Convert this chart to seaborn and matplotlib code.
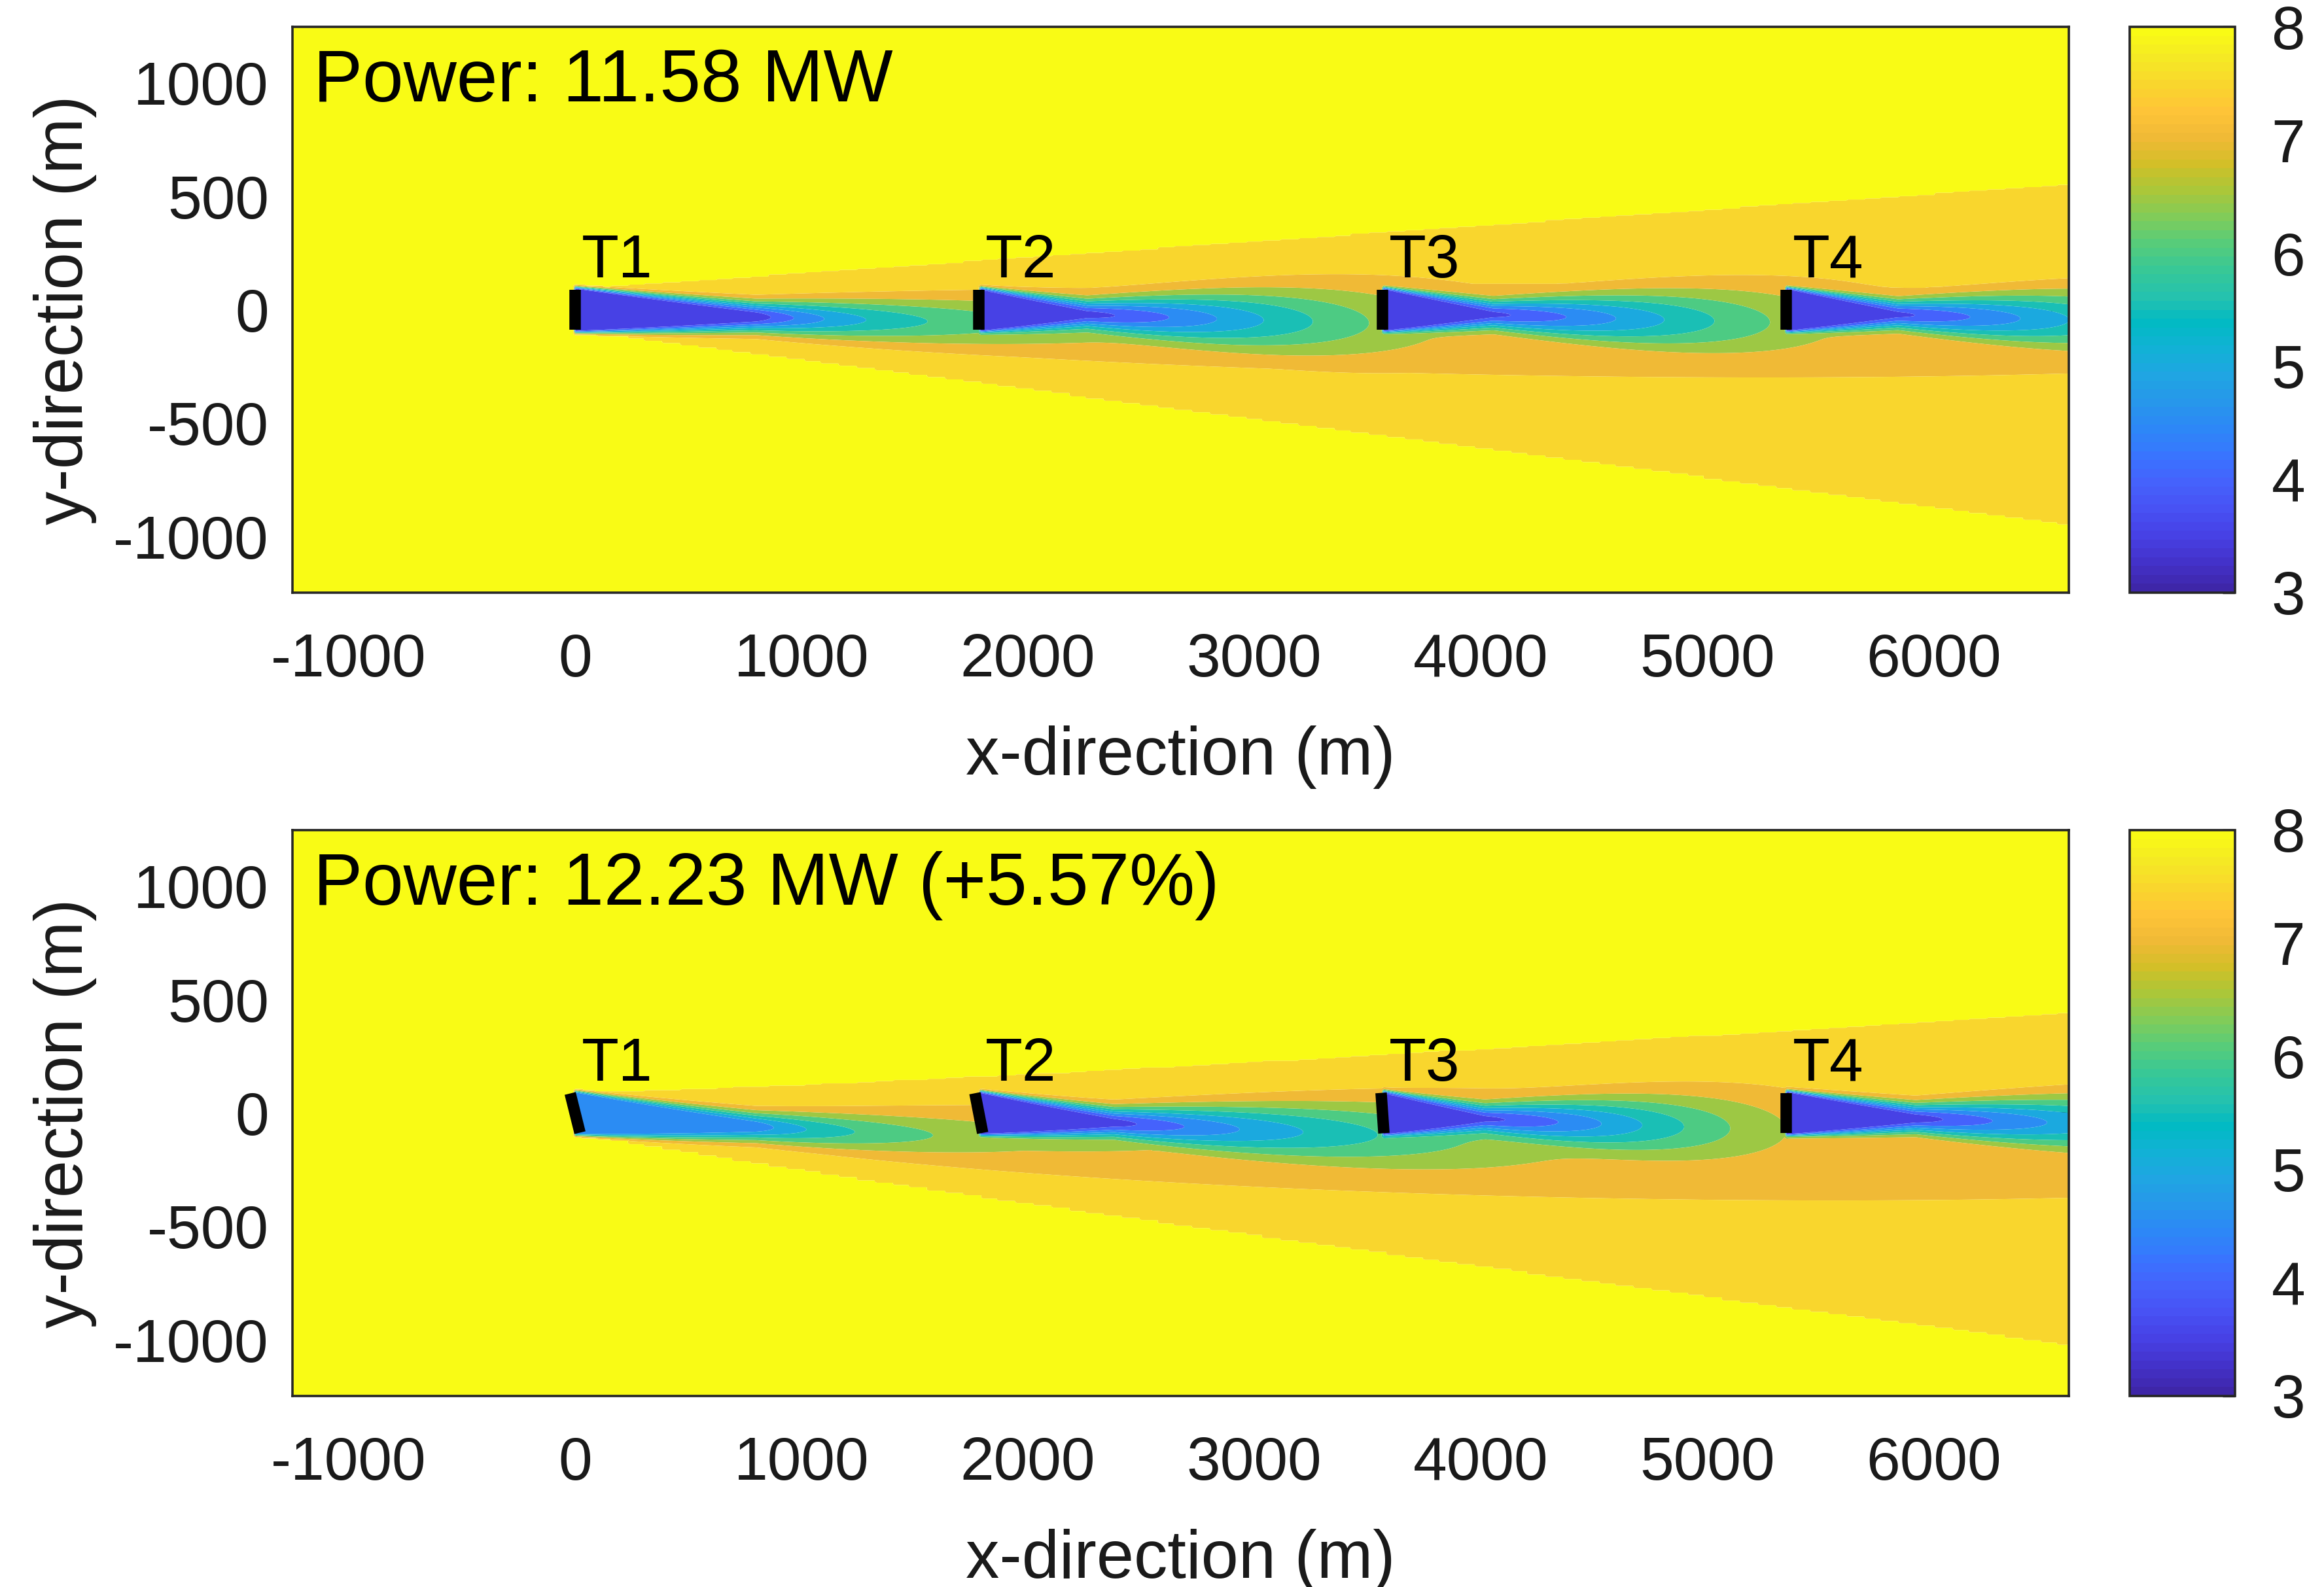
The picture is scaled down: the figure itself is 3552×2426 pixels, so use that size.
import numpy as np
import matplotlib
matplotlib.use("Agg")
import matplotlib.pyplot as plt
import seaborn as sns
from matplotlib.colors import ListedColormap, Normalize
from matplotlib.cm import ScalarMappable

# ---------------- data ----------------
rotor_diameter = 178.3            # m
free_stream_speed = 8.0           # m/s
turbine_names = ["T1", "T2", "T3", "T4"]
turbine_x = [0.0, 1783.0, 3566.0, 5349.0]
turbine_y = [0.0, 0.0, 0.0, 0.0]
yaw_baseline = [0.0, 0.0, 0.0, 0.0]          # deg
yaw_optimised = [14.0, 11.0, 4.0, 0.0]       # deg
deficit_baseline = [0.55, 0.60, 0.60, 0.60]  # centre-line deficit fraction
deficit_optimised = [0.42, 0.58, 0.60, 0.60]
power_baseline = 11.58
power_optimised = 12.23
power_gain_pct = 5.57
x_ticks = [-1000, 0, 1000, 2000, 3000, 4000, 5000, 6000]
y_ticks = [-1000, -500, 0, 500, 1000]
speed_ticks = [3, 4, 5, 6, 7, 8]
speed_levels = [3.0, 3.5, 4.0, 4.5, 5.0, 5.5, 6.0, 6.5, 7.0, 7.5, 8.0]

# ---------------- wake-model constants ----------------
CORE_LEN, CORE_K = 800.0, 3.0        # potential-core length, inflow sensitivity
DECAY_LEN, DECAY_GAUSS, WAKED_K = 650.0, 6000.0, 9.0
S0, KS, KS_ADD = 10.0, 0.046, 0.18   # shear-layer width growth (+ added turbulence)
FAR_C, FAR_LEN, FAR_S0, FAR_KS = 0.27, 2500.0, 40.0, 0.04
DRIFT, DRIFT_SAT = 0.05, 3000.0
YAW_GAIN, YAW_SAT = 0.184, 3000.0
TH_DEFICIT, TH_GROWTH, TH_DRIFT, TH_DX = 0.3, 0.10, 0.03, 78.0

D = rotor_diameter
U0 = free_stream_speed
XLIM = (-7 * D, 37 * D)
YLIM = (-7 * D, 7 * D)


def wake_parts(xi, yi, yaw, c0, uin, X, Y):
    dx = X - xi
    pos = dx > 0
    dxp = np.where(pos, dx, 0.0)
    g = np.radians(yaw)
    w = (U0 - uin) / U0                      # how strongly the rotor is waked
    lc = CORE_LEN * (uin / U0) ** CORE_K
    ld = DECAY_LEN * np.exp(WAKED_K * w)
    lg = DECAY_GAUSS * np.exp(-WAKED_K * w)
    ks = KS + KS_ADD * w
    yc = (yi - DRIFT * dxp / (1 + dxp / DRIFT_SAT)
          - YAW_GAIN * g * dxp / (1 + dxp / YAW_SAT))
    r = np.abs(Y - yc)
    # near wake: shrinking potential core + growing shear layer
    rc = 0.5 * D * np.cos(g) * np.clip(1 - dxp / lc, 0, 1)
    s = S0 + ks * dxp
    u = np.maximum(dxp - lc, 0)
    amp = uin * c0 * np.exp(-(u / lg) ** 2) / (1 + u / ld)
    near = amp * np.exp(-0.5 * (np.maximum(r - rc, 0) / s) ** 2)
    # slowly recovering far wake
    sf = FAR_S0 + FAR_KS * dxp
    famp = uin * FAR_C * (1 - np.exp(-dxp / 800.0)) / (1 + dxp / FAR_LEN)
    far = famp * np.exp(-0.5 * (r / sf) ** 2)
    return np.where(pos, near, 0.0), np.where(pos, far, 0.0)


def tophat(xi, yi, yaw, Xs, Y):
    dx = Xs - xi
    pos = dx > 0
    dxp = np.where(pos, dx, 0.0)
    g = np.radians(yaw)
    yc = yi - TH_DRIFT * dxp - YAW_GAIN * g * dxp / (1 + dxp / YAW_SAT)
    half = D / 2 + TH_GROWTH * np.cos(g) * dxp
    return pos & (np.abs(Y - yc) < half)


def combined(parts_list, X, Y):
    sq = np.zeros_like(X, dtype=float)
    fmax = np.zeros_like(X, dtype=float)
    for (xi, yi, yaw, c0, uin) in parts_list:
        n, f = wake_parts(xi, yi, yaw, c0, uin, X, Y)
        sq += n ** 2
        fmax = np.maximum(fmax, f)
    return np.maximum(np.sqrt(sq), fmax)


def flow_field(X, Y, yaws, c0s):
    Xs = np.floor((X - XLIM[0]) / TH_DX) * TH_DX + XLIM[0] + TH_DX / 2
    th = np.zeros(X.shape, dtype=bool)
    done = []
    for xi, yi, yaw, c0 in zip(turbine_x, turbine_y, yaws, c0s):
        ys = yi + np.linspace(-D / 2, D / 2, 9)
        xs = np.full_like(ys, xi)
        uin = U0 - (np.mean(combined(done, xs, ys)) if done else 0.0)
        done.append((xi, yi, yaw, c0, uin))
        th |= tophat(xi, yi, yaw, Xs, Y)
    sm = combined(done, X, Y)
    deficit = np.where(th, np.maximum(sm, TH_DEFICIT), np.where(sm >= 0.5, sm, 0.0))
    return U0 - deficit


# ---------------- style ----------------
sns.set_theme(style="white")
plt.rcParams["font.family"] = ["Liberation Sans", "DejaVu Sans"]
plt.rcParams["axes.unicode_minus"] = False

parula_anchor = [
    (0.2422, 0.1504, 0.6603), (0.2647, 0.1978, 0.7952), (0.2783, 0.2559, 0.8991),
    (0.2810, 0.3228, 0.9579), (0.2699, 0.3892, 0.9906), (0.2206, 0.4603, 0.9973),
    (0.1786, 0.5289, 0.9682), (0.1540, 0.5902, 0.9218), (0.1248, 0.6459, 0.8883),
    (0.0689, 0.6948, 0.8394), (0.0067, 0.7312, 0.7660), (0.1408, 0.7584, 0.6842),
    (0.2161, 0.7843, 0.5923), (0.3406, 0.8008, 0.4789), (0.5044, 0.7993, 0.3480),
    (0.6720, 0.7793, 0.2227), (0.8203, 0.7498, 0.1535), (0.9393, 0.7288, 0.2100),
    (0.9970, 0.7659, 0.2199), (0.9786, 0.8386, 0.1766), (0.9597, 0.9135, 0.1423),
    (0.9769, 0.9839, 0.0805)]
parula = ListedColormap(sns.blend_palette(parula_anchor, n_colors=64))
norm = Normalize(vmin=speed_levels[0], vmax=speed_levels[-1])

fill_levels = [0.0] + speed_levels[1:-1] + [speed_levels[-1] - 0.05, 9.0]
fill_colors = [parula(norm(v)) for v in speed_levels]

xg = np.arange(XLIM[0], XLIM[1] + 10, 10.0)
yg = np.arange(YLIM[0], YLIM[1] + 5, 5.0)
X, Y = np.meshgrid(xg, yg)

W, H = 3552, 2426
fig = plt.figure(figsize=(W / 200, H / 200), dpi=200)
ax_left, ax_w = 447 / W, 2715 / W
ax_h = 865 / H
bottoms = [1 - 906 / H, 1 - 2134 / H]
cb_left, cb_w = 3255 / W, 161 / W

panels = [
    (yaw_baseline, deficit_baseline, f"Power: {power_baseline:.2f} MW"),
    (yaw_optimised, deficit_optimised,
     f"Power: {power_optimised:.2f} MW (+{power_gain_pct:.2f}%)"),
]
spine_col = "#262626"
TICK_FS, LABEL_FS = 33.5, 37.0

for (yaws, c0s, ptxt), b in zip(panels, bottoms):
    ax = fig.add_axes([ax_left, b, ax_w, ax_h])
    U = flow_field(X, Y, yaws, c0s)
    ax.contourf(X, Y, U, levels=fill_levels, colors=fill_colors, antialiased=True)
    for name, xi, yi, yaw in zip(turbine_names, turbine_x, turbine_y, yaws):
        g = np.radians(yaw)
        ax.plot([xi - D / 2 * np.sin(g), xi + D / 2 * np.sin(g)],
                [yi + D / 2 * np.cos(g), yi - D / 2 * np.cos(g)],
                color="black", lw=6.3, solid_capstyle="butt")
        ax.text(xi + 28, yi + 143, name, fontsize=TICK_FS, color="black",
                ha="left", va="baseline")
    ax.text(-1155, 918, ptxt, fontsize=40.5, color="black", ha="left", va="baseline")
    ax.set_xlim(*XLIM)
    ax.set_ylim(*YLIM)
    ax.set_xticks(x_ticks)
    ax.set_yticks(y_ticks)
    ax.tick_params(direction="in", length=10, width=1.2, colors=spine_col,
                   labelcolor="#1a1a1a", labelsize=TICK_FS,
                   top=True, right=True, bottom=True, left=True)
    ax.tick_params(axis="x", pad=22)
    ax.tick_params(axis="y", pad=13)
    for s in ax.spines.values():
        s.set_color(spine_col)
        s.set_linewidth(1.3)
    ax.set_xlabel("x-direction (m)", fontsize=LABEL_FS, labelpad=20, color="#1a1a1a")
    ax.set_ylabel("y-direction (m)", fontsize=LABEL_FS, labelpad=9, color="#1a1a1a")

    cax = fig.add_axes([cb_left, b, cb_w, ax_h])
    cb = fig.colorbar(ScalarMappable(norm=norm, cmap=parula), cax=cax, ticks=speed_ticks)
    cb.outline.set_edgecolor(spine_col)
    cb.outline.set_linewidth(1.3)
    cax.tick_params(direction="in", length=7, width=1.2, colors=spine_col,
                    labelcolor="#1a1a1a", labelsize=TICK_FS, pad=20)

fig.savefig("out.png", dpi=200)
